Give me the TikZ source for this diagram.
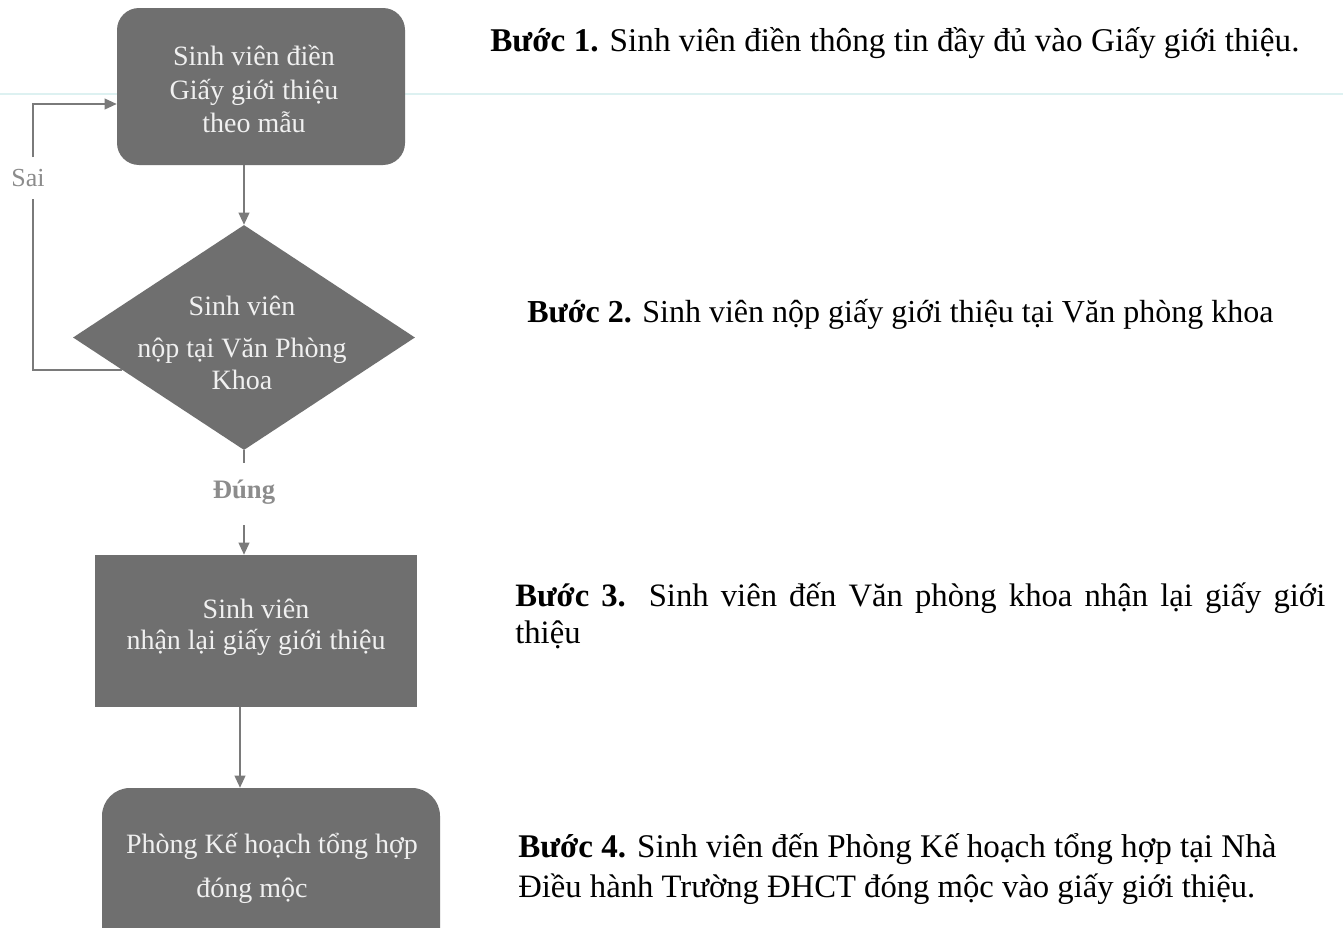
\documentclass[tikz,border=0pt]{standalone}
\usepackage{fontspec}
\setmainfont{Liberation Serif}
\usetikzlibrary{shapes.geometric,arrows.meta,calc}
\definecolor{boxgray}{HTML}{6F6F6F}
\definecolor{boxtext}{HTML}{F0F0F0}
\definecolor{linegray}{HTML}{7A7A7A}
\definecolor{labelgray}{HTML}{8C8C8C}
\definecolor{scanline}{HTML}{DDF1F1}
\begin{document}
\begin{tikzpicture}[x=0.75pt,y=-0.75pt,
  procbox/.style={fill=boxgray, draw=none, inner sep=0pt},
  boxtxt/.style={text=boxtext, font=\fontsize{21}{24}\selectfont, align=center, inner sep=0pt},
  flow/.style={draw=linegray, line width=1.2pt, -{Triangle[length=9pt,width=8pt]}},
  flowline/.style={draw=linegray, line width=1.2pt},
  steptxt/.style={font=\fontsize{24.5}{29}\selectfont, anchor=base west, inner sep=0pt, text=black},
  lbl/.style={text=labelgray, inner sep=0pt}
]
\useasboundingbox (0,0) rectangle (1343,928);
\clip (0,0) rectangle (1343,928);
\fill[white] (0,0) rectangle (1343,928);
\draw[scanline, line width=1.1pt] (0,94) -- (1343,94);

% boxes
\node[procbox, rounded corners=16.5pt, minimum width=216pt, minimum height=117.75pt] (b1) at (261,86.5) {};
\node[boxtxt, font=\fontsize{21}{25}\selectfont] (t1) at (254,89) {Sinh viên điền\\Giấy giới thiệu\\theo mẫu};

\node[diamond, fill=boxgray, inner sep=0pt, minimum width=256.5pt, minimum height=168.75pt] (d) at (244,337.5) {};
\node[boxtxt] (dt) at (242,343) {Sinh viên\\[7pt]nộp tại Văn Phòng\\Khoa};

\node[procbox, minimum width=241.5pt, minimum height=114pt] (b3) at (256,631) {};
\node[boxtxt, font=\fontsize{21}{23}\selectfont] (t3) at (256,627) {Sinh viên\\nhận lại giấy giới thiệu};

\node[procbox, rounded corners=21pt, minimum width=253.5pt, minimum height=129pt] (b4) at (271,874) {};
\node[boxtxt, font=\fontsize{21}{33}\selectfont] (t4) at (272,868) {Phòng Kế hoạch tổng hợp\\\hspace*{-30pt}đóng mộc};

% labels
\node[lbl, font=\fontsize{19.5}{20}\selectfont, fill=white, inner xsep=1pt, inner ysep=9pt] (sai) at (28,178) {Sai};
\node[lbl, font=\bfseries\fontsize{20}{20}\selectfont] (dung) at (244,492) {Đúng};

% connectors
\draw[flow] (b1.south -| d.north) -- (d.north);
\coordinate (dstub) at (244,463);
\coordinate (astart) at (244,525);
\draw[flowline] (d.south) -- (dstub);
\draw[flow] (astart) -- (astart |- b3.north);
\coordinate (b34) at (240,0);
\draw[flow] (b34 |- b3.south) -- (b34 |- b4.north);
\coordinate (sl) at ($(d.west)!0.29!(d.south)$);
\coordinate (lc1) at (33,370);
\coordinate (lc2) at (33,104);
\draw[flowline] (sl) -- (sl -| lc1) -- (lc2 |- sai.south);
\draw[flow] (lc2 |- sai.north) -- (lc2) -- (lc2 -| b1.west);

% step texts
\node[steptxt, font=\fontsize{24.9}{29}\selectfont] (s1) at (490,51) {\textbf{Bước 1.} Sinh viên điền thông tin đầy đủ vào Giấy giới thiệu.};
\node[steptxt, font=\fontsize{24}{29}\selectfont] (s2) at (527,322) {\textbf{Bước 2.} Sinh viên nộp giấy giới thiệu tại Văn phòng khoa};
\node[steptxt] (s3a) at (515,606) {\makebox[607.5pt][s]{\textbf{Bước 3.} Sinh viên đến Văn phòng khoa nhận lại giấy giới}};
\node[steptxt] (s3b) at (515,643) {thiệu};
\node[steptxt, font=\fontsize{24.8}{29}\selectfont] (s4a) at (518,857) {\textbf{Bước 4.} Sinh viên đến Phòng Kế hoạch tổng hợp tại Nhà};
\node[steptxt] (s4b) at (518,897) {Điều hành Trường ĐHCT đóng mộc vào giấy giới thiệu.};
\end{tikzpicture}
\end{document}
